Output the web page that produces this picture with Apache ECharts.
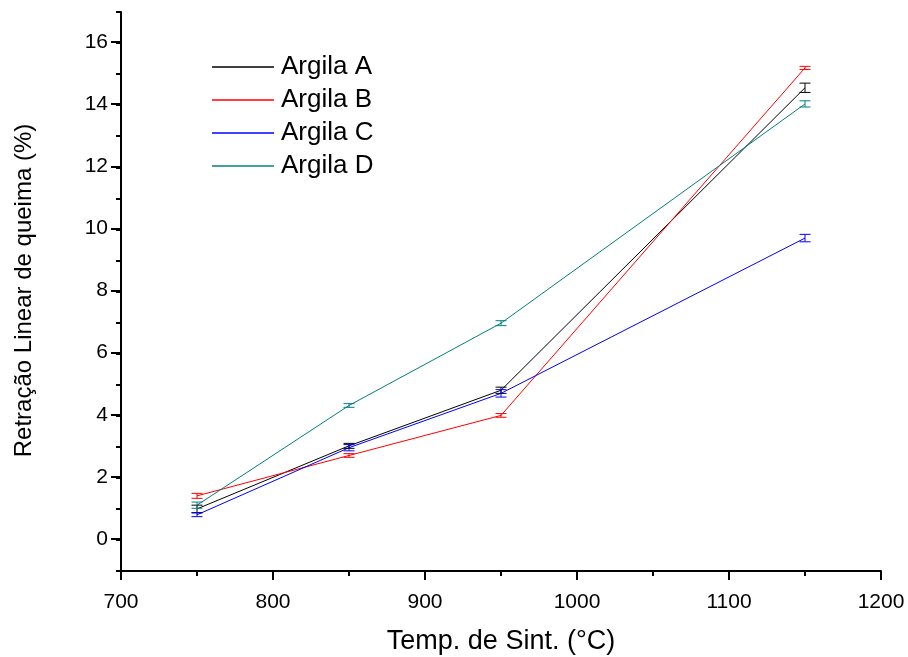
<!DOCTYPE html>
<html><head><meta charset="utf-8">
<script src="https://cdn.jsdelivr.net/npm/echarts@6/dist/echarts.min.js"></script>
<style>html,body{margin:0;padding:0;background:#fff}#c{width:908px;height:657px}</style>
</head><body><div id="c"></div>
<script>
const temps = [750, 850, 950, 1150];
const names = ['Argila A', 'Argila B', 'Argila C', 'Argila D'];
const argilaA = [1.0, 3.03, 4.82, 14.56];
const argilaB = [1.42, 2.72, 4.01, 15.2];
const argilaC = [0.81, 2.97, 4.72, 9.72];
const argilaD = [1.12, 4.33, 6.98, 14.04];
const errA = [0.12, 0.08, 0.1, 0.15];
const errB = [0.08, 0.06, 0.06, 0.05];
const errC = [0.06, 0.1, 0.12, 0.12];
const errD = [0.1, 0.06, 0.08, 0.1];
const yTicks = [0, 2, 4, 6, 8, 10, 12, 14, 16];
const colors = ['#000000', '#ff0000', '#0000ff', '#008080'];

const values = [argilaA, argilaB, argilaC, argilaD];
const errs = [errA, errB, errC, errD];
const font = 'Liberation Sans, Arial, sans-serif';

const chart = echarts.init(document.getElementById('c'));
const series = [];
values.forEach((vals, i) => {
  series.push({
    name: names[i], type: 'line', xAxisIndex: 0, yAxisIndex: 0,
    data: temps.map((t, j) => [t, vals[j]]),
    symbol: 'none', lineStyle: { color: colors[i], width: 1 }, itemStyle: { color: colors[i] },
    z: 3
  });
  series.push({
    type: 'custom', xAxisIndex: 0, yAxisIndex: 0,
    data: temps.map((t, j) => [t, vals[j] - errs[i][j], vals[j] + errs[i][j]]),
    renderItem: function (params, api) {
      const lo = api.coord([api.value(0), api.value(1)]);
      const hi = api.coord([api.value(0), api.value(2)]);
      const w = 5.5;
      const st = { stroke: colors[i], lineWidth: 1 };
      return { type: 'group', children: [
        { type: 'line', shape: { x1: lo[0], y1: lo[1], x2: hi[0], y2: hi[1] }, style: st },
        { type: 'line', shape: { x1: lo[0] - w, y1: lo[1], x2: lo[0] + w, y2: lo[1] }, style: st },
        { type: 'line', shape: { x1: hi[0] - w, y1: hi[1], x2: hi[0] + w, y2: hi[1] }, style: st }
      ]};
    },
    z: 4, silent: true
  });
});

chart.setOption({
  animation: false,
  backgroundColor: '#ffffff',
  legend: {
    orient: 'vertical', left: 207, top: 49, itemWidth: 62, itemHeight: 1.5, itemGap: 7,
    icon: 'rect',
    data: names,
    textStyle: { fontFamily: font, fontSize: 26, color: '#000', lineHeight: 26, padding: [0, 0, 0, 2] }
  },
  grid: [
    { left: 121, right: 27, top: 12, bottom: 86, containLabel: false, outerBoundsMode: 'none' },
    { left: 121, right: 27, top: 42, bottom: 118, containLabel: false, outerBoundsMode: 'none' }
  ],
  xAxis: [{
    type: 'value', gridIndex: 0, min: 700, max: 1200, interval: 100,
    name: 'Temp. de Sint. (°C)', nameLocation: 'middle', nameGap: 57,
    nameTextStyle: { fontFamily: font, fontSize: 27, color: '#000' },
    axisLine: { onZero: false, lineStyle: { color: '#000', width: 2 } },
    axisTick: { length: 9, lineStyle: { color: '#000', width: 2 } },
    minorTick: { show: true, splitNumber: 2, length: 5, lineStyle: { color: '#000', width: 2 } },
    axisLabel: { fontFamily: font, fontSize: 21, color: '#000', margin: 21, formatter: v => String(v) },
    splitLine: { show: false }
  }, {
    type: 'value', gridIndex: 1, min: 700, max: 1200, show: false
  }],
  yAxis: [{
    type: 'value', gridIndex: 0, min: -1, max: 17, interval: 1,
    axisLine: { show: true, onZero: false, lineStyle: { color: '#000', width: 2 } },
    axisTick: { show: true, length: 5, lineStyle: { color: '#000', width: 2 } },
    axisLabel: { show: false },
    splitLine: { show: false }
  }, {
    type: 'value', gridIndex: 1, min: 0, max: 16, interval: 2,
    name: 'Retração Linear de queima (%)', nameLocation: 'middle', nameGap: 85,
    nameTextStyle: { fontFamily: font, fontSize: 24, color: '#000' },
    axisLine: { show: false },
    axisTick: { show: true, length: 10, lineStyle: { color: '#000', width: 2 } },
    axisLabel: { fontFamily: font, fontSize: 21, color: '#000', margin: 13, formatter: v => String(v) },
    splitLine: { show: false }
  }],
  series: series
});
</script>
</body></html>
